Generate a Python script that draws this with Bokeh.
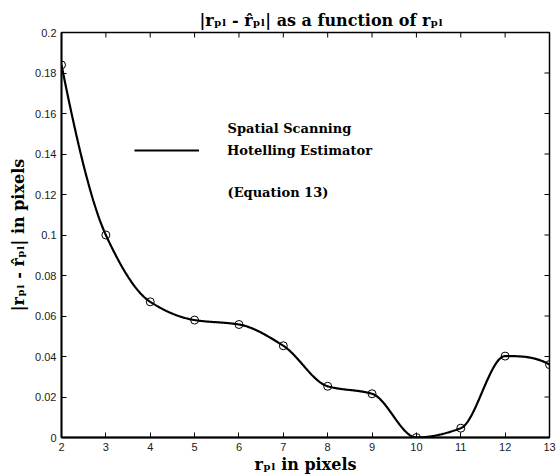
import numpy as np
from bokeh.plotting import figure
from bokeh.models import Range1d, FixedTicker, Legend, LegendItem, Label
from bokeh.embed import file_html
from bokeh.resources import INLINE

# ---- data ----
r_pl = [2, 3, 4, 5, 6, 7, 8, 9, 10, 11, 12, 13]
abs_error = [0.184, 0.100, 0.067, 0.058, 0.0558, 0.0453, 0.0253, 0.0216, 0.0, 0.0046, 0.0402, 0.036]

x_ticks = [2, 3, 4, 5, 6, 7, 8, 9, 10, 11, 12, 13]
x_tick_labels = ["2", "3", "4", "5", "6", "7", "8", "9", "10", "11", "12", "13"]
y_ticks = [0, 0.02, 0.04, 0.06, 0.08, 0.1, 0.12, 0.14, 0.16, 0.18, 0.2]
y_tick_labels = ["0", "0.02", "0.04", "0.06", "0.08", "0.1", "0.12", "0.14", "0.16", "0.18", "0.2"]

title_text = "|r\u209a\u2097 - r\u0302\u209a\u2097| as a function of r\u209a\u2097"
x_label = "r\u209a\u2097 in pixels"
y_label = "|r\u209a\u2097 - r\u0302\u209a\u2097| in pixels"
legend_lines = ["Spatial Scanning", "Hotelling Estimator", "(Equation 13)"]


def pchip(x, y, xs):
    """Shape-preserving piecewise cubic Hermite curve through the data points."""
    x = np.asarray(x, float)
    y = np.asarray(y, float)
    h = np.diff(x)
    delta = np.diff(y) / h
    n = len(x)
    d = np.zeros(n)
    for k in range(1, n - 1):
        if delta[k - 1] * delta[k] > 0:
            w1 = 2 * h[k] + h[k - 1]
            w2 = h[k] + 2 * h[k - 1]
            d[k] = (w1 + w2) / (w1 / delta[k - 1] + w2 / delta[k])

    def end_slope(h0, h1, d0, d1):
        s = ((2 * h0 + h1) * d0 - h0 * d1) / (h0 + h1)
        if np.sign(s) != np.sign(d0):
            s = 0.0
        elif np.sign(d0) != np.sign(d1) and abs(s) > abs(3 * d0):
            s = 3 * d0
        return s

    d[0] = end_slope(h[0], h[1], delta[0], delta[1])
    d[-1] = end_slope(h[-1], h[-2], delta[-1], delta[-2])
    xs = np.asarray(xs, float)
    idx = np.clip(np.searchsorted(x, xs) - 1, 0, n - 2)
    t = (xs - x[idx]) / h[idx]
    h00 = 2 * t**3 - 3 * t**2 + 1
    h10 = t**3 - 2 * t**2 + t
    h01 = -2 * t**3 + 3 * t**2
    h11 = t**3 - t**2
    return h00 * y[idx] + h10 * h[idx] * d[idx] + h01 * y[idx + 1] + h11 * h[idx] * d[idx + 1]


xs = np.linspace(min(r_pl), max(r_pl), 600)
ys = pchip(r_pl, abs_error, xs)

SERIF = "DejaVu Serif"
SANS = "Liberation Sans"

p = figure(width=557, height=476,
           x_range=Range1d(2, 13), y_range=Range1d(0, 0.2),
           output_backend="svg", toolbar_location=None,
           min_border_left=61, min_border_right=8,
           min_border_top=32, min_border_bottom=39)

p.background_fill_color = "white"
p.border_fill_color = "white"
p.xgrid.visible = False
p.ygrid.visible = False
p.outline_line_color = "black"
p.outline_line_width = 1.5

p.title.text = title_text
p.title.align = "left"
p.title.offset = 138
p.title.text_font = SERIF
p.title.text_font_style = "bold"
p.title.text_font_size = "16px"
p.title.text_color = "black"
p.title.standoff = 5


def style_axis(ax):
    ax.axis_line_color = "black"
    ax.axis_line_width = 1.8
    ax.major_tick_in = 5
    ax.major_tick_out = 0
    ax.major_tick_line_color = "black"
    ax.minor_tick_line_color = None
    ax.major_label_text_font = SANS
    ax.major_label_text_font_size = "11px"
    ax.major_label_text_color = "#1a1a1a"
    ax.major_label_standoff = 5
    ax.axis_label_text_font = SERIF
    ax.axis_label_text_font_style = "bold"
    ax.axis_label_text_font_size = "16px"
    ax.axis_label_text_color = "black"


xaxis = p.xaxis[0]
yaxis = p.yaxis[0]
xaxis.ticker = FixedTicker(ticks=x_ticks)
yaxis.ticker = FixedTicker(ticks=y_ticks)
xaxis.major_label_overrides = {t: l for t, l in zip(x_ticks, x_tick_labels)}
yaxis.major_label_overrides = {t: l for t, l in zip(y_ticks, y_tick_labels)}
style_axis(xaxis)
style_axis(yaxis)
xaxis.axis_label = x_label
yaxis.axis_label = y_label
xaxis.axis_label_standoff = 1
yaxis.axis_label_standoff = 4

# inward ticks on the top and right edges of the box (no labels there)
p.ray(x=x_ticks, y=[p.y_range.end] * len(x_ticks), length=5, length_units="screen",
      angle=-np.pi / 2, line_color="black", line_width=1)
p.ray(x=[p.x_range.end] * len(y_ticks), y=y_ticks, length=5, length_units="screen",
      angle=np.pi, line_color="black", line_width=1)

line = p.line(xs, ys, line_color="black", line_width=2.2)
p.scatter(r_pl, abs_error, marker="circle", size=8, fill_color=None,
          line_color="black", line_width=1)

legend = Legend(items=[LegendItem(label=legend_lines[1], renderers=[line])],
                location=(73, 277), padding=0, margin=0, spacing=0,
                glyph_width=65, glyph_height=20, label_height=20,
                label_standoff=28, border_line_alpha=0,
                background_fill_alpha=0,
                label_text_font=SERIF, label_text_font_style="bold",
                label_text_font_size="13px", label_text_color="black")
p.add_layout(legend, "center")

for txt, yy in [(legend_lines[0], 309), (legend_lines[2], 245)]:
    p.add_layout(Label(x=166, y=yy, x_units="screen", y_units="screen",
                       text=txt, text_font=SERIF, text_font_style="bold",
                       text_font_size="13px", text_color="black",
                       text_baseline="middle", text_align="left"))

open("out.html", "w").write(file_html(p, INLINE))
